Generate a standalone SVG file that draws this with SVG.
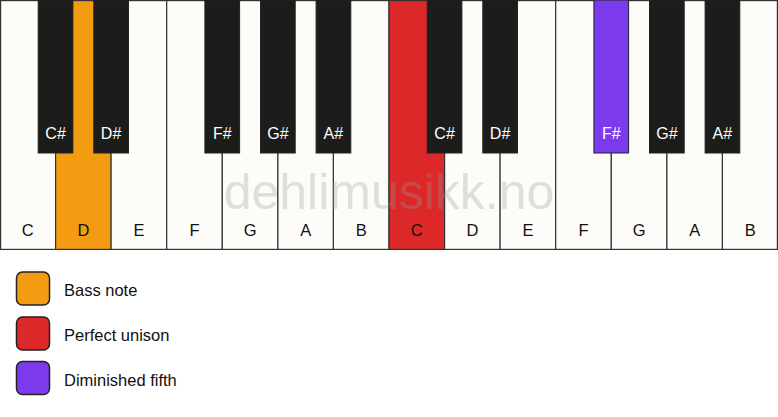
<svg xmlns="http://www.w3.org/2000/svg" width="778" height="417" viewBox="0 0 778 417">
<style>
.w{fill:#fdfcf8;stroke:#333;stroke-width:1.2}
.b{fill:#1c1c1a;stroke:#222;stroke-width:1}
.wl{font-family:"Liberation Sans",Arial,sans-serif;font-size:16.5px;fill:#111;text-anchor:middle}
.bl{font-family:"Liberation Sans",Arial,sans-serif;font-size:16px;fill:#fff;text-anchor:middle}
.lg{stroke:#222;stroke-width:1.5}
.lt{font-family:"Liberation Sans",Arial,sans-serif;font-size:16.5px;fill:#111}
.orange{fill:#f39c12}
.red{fill:#dc2828}
.purple{fill:#7b3aec}
</style>
<rect width="778" height="417" fill="#ffffff"/>
<g id="white-keys">
<g id="w-C1"><rect class="w" x="0.6" y="0.6" width="55" height="248.8"/><text class="wl" x="27.8" y="236">C</text></g>
<g id="w-D1"><rect class="w orange" x="55.6" y="0.6" width="55.6" height="248.8"/><text class="wl" x="83.4" y="236">D</text></g>
<g id="w-E1"><rect class="w" x="111.1" y="0.6" width="55.6" height="248.8"/><text class="wl" x="138.9" y="236">E</text></g>
<g id="w-F1"><rect class="w" x="166.7" y="0.6" width="55.6" height="248.8"/><text class="wl" x="194.5" y="236">F</text></g>
<g id="w-G1"><rect class="w" x="222.3" y="0.6" width="55.6" height="248.8"/><text class="wl" x="250.1" y="236">G</text></g>
<g id="w-A1"><rect class="w" x="277.9" y="0.6" width="55.6" height="248.8"/><text class="wl" x="305.7" y="236">A</text></g>
<g id="w-B1"><rect class="w" x="333.4" y="0.6" width="55.6" height="248.8"/><text class="wl" x="361.2" y="236">B</text></g>
<g id="w-C2"><rect class="w red" x="389" y="0.6" width="55.6" height="248.8"/><text class="wl" x="416.8" y="236">C</text></g>
<g id="w-D2"><rect class="w" x="444.6" y="0.6" width="55.6" height="248.8"/><text class="wl" x="472.4" y="236">D</text></g>
<g id="w-E2"><rect class="w" x="500.1" y="0.6" width="55.6" height="248.8"/><text class="wl" x="527.9" y="236">E</text></g>
<g id="w-F2"><rect class="w" x="555.7" y="0.6" width="55.6" height="248.8"/><text class="wl" x="583.5" y="236">F</text></g>
<g id="w-G2"><rect class="w" x="611.3" y="0.6" width="55.6" height="248.8"/><text class="wl" x="639.1" y="236">G</text></g>
<g id="w-A2"><rect class="w" x="666.9" y="0.6" width="55.6" height="248.8"/><text class="wl" x="694.7" y="236">A</text></g>
<g id="w-B2"><rect class="w" x="722.4" y="0.6" width="55" height="248.8"/><text class="wl" x="750.2" y="236">B</text></g>
</g>
<g id="black-keys">
<g id="b-Cs1"><rect class="b" x="38.2" y="0" width="34.7" height="153"/><text class="bl" x="55.6" y="139">C#</text></g>
<g id="b-Ds1"><rect class="b" x="93.8" y="0" width="34.7" height="153"/><text class="bl" x="111.1" y="139">D#</text></g>
<g id="b-Fs1"><rect class="b" x="204.9" y="0" width="34.7" height="153"/><text class="bl" x="222.3" y="139">F#</text></g>
<g id="b-Gs1"><rect class="b" x="260.5" y="0" width="34.7" height="153"/><text class="bl" x="277.9" y="139">G#</text></g>
<g id="b-As1"><rect class="b" x="316.1" y="0" width="34.7" height="153"/><text class="bl" x="333.4" y="139">A#</text></g>
<g id="b-Cs2"><rect class="b" x="427.2" y="0" width="34.7" height="153"/><text class="bl" x="444.6" y="139">C#</text></g>
<g id="b-Ds2"><rect class="b" x="482.8" y="0" width="34.7" height="153"/><text class="bl" x="500.1" y="139">D#</text></g>
<g id="b-Fs2"><rect class="b purple" x="593.9" y="0" width="34.7" height="153"/><text class="bl" x="611.3" y="139">F#</text></g>
<g id="b-Gs2"><rect class="b" x="649.5" y="0" width="34.7" height="153"/><text class="bl" x="666.9" y="139">G#</text></g>
<g id="b-As2"><rect class="b" x="705.1" y="0" width="34.7" height="153"/><text class="bl" x="722.4" y="139">A#</text></g>
</g>
<text id="watermark" x="389" y="209" text-anchor="middle" font-family="'Liberation Sans',Arial,sans-serif" font-size="50" fill="#9a9a9a" opacity="0.3">dehlimusikk.no</text>
<g id="legend">
<g id="legend-bass"><rect class="lg orange" x="16.5" y="272" width="33" height="33" rx="6"/><text class="lt" x="64" y="296">Bass note</text></g>
<g id="legend-unison"><rect class="lg red" x="16.5" y="317" width="33" height="33" rx="6"/><text class="lt" x="64" y="341">Perfect unison</text></g>
<g id="legend-dim5"><rect class="lg purple" x="16.5" y="361.5" width="33" height="33" rx="6"/><text class="lt" x="64" y="385.5">Diminished fifth</text></g>
</g>
</svg>
